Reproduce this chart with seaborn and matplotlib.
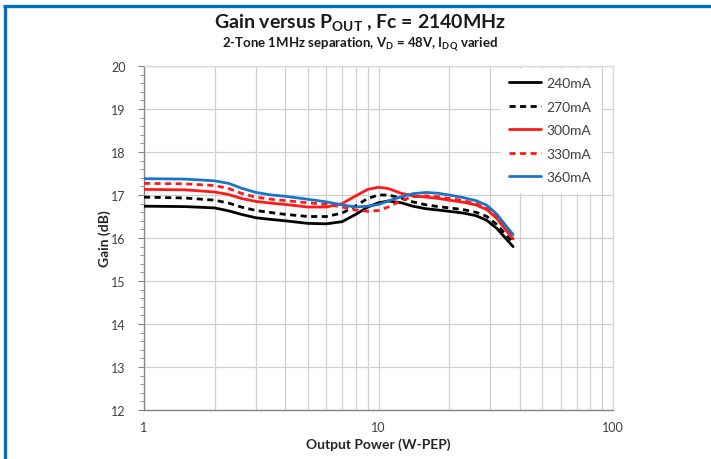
import numpy as np
import pandas as pd
import matplotlib
matplotlib.use("Agg")
import matplotlib.pyplot as plt
import matplotlib.ticker as mticker
import seaborn as sns

# ---- data ----
pout = [1, 1.5, 2, 2.3, 2.6, 3, 3.5, 4, 5, 6, 7, 8, 9, 10, 11, 12.5, 14, 16, 18, 20, 23, 26, 29, 32, 35, 37.5]
gain_240 = [16.74, 16.73, 16.70, 16.63, 16.55, 16.47, 16.43, 16.40, 16.34, 16.33, 16.38, 16.55, 16.72, 16.82, 16.86, 16.82, 16.74, 16.68, 16.65, 16.62, 16.58, 16.52, 16.41, 16.22, 15.98, 15.80]
gain_270 = [16.95, 16.93, 16.88, 16.81, 16.72, 16.64, 16.59, 16.55, 16.50, 16.50, 16.58, 16.75, 16.92, 17.00, 17.00, 16.93, 16.84, 16.77, 16.73, 16.70, 16.66, 16.60, 16.50, 16.31, 16.07, 15.90]
gain_300 = [17.13, 17.12, 17.07, 17.01, 16.92, 16.85, 16.81, 16.78, 16.72, 16.72, 16.80, 16.98, 17.13, 17.18, 17.15, 17.04, 16.98, 16.95, 16.92, 16.88, 16.83, 16.77, 16.66, 16.45, 16.18, 15.98]
gain_330 = [17.27, 17.26, 17.22, 17.15, 17.04, 16.95, 16.90, 16.87, 16.82, 16.78, 16.72, 16.65, 16.62, 16.64, 16.72, 16.87, 16.96, 16.98, 16.96, 16.92, 16.87, 16.80, 16.69, 16.49, 16.22, 16.00]
gain_360 = [17.38, 17.37, 17.33, 17.27, 17.16, 17.06, 17.00, 16.97, 16.90, 16.84, 16.77, 16.72, 16.74, 16.78, 16.86, 16.96, 17.03, 17.06, 17.04, 17.00, 16.94, 16.87, 16.76, 16.55, 16.28, 16.08]
series_labels = ["240mA", "270mA", "300mA", "330mA", "360mA"]
y_ticks = [12, 13, 14, 15, 16, 17, 18, 19, 20]
x_ticks = [1, 10, 100]

title = r"Gain versus P$_{\mathbf{OUT}}$ , Fc = 2140MHz"
subtitle = r"2-Tone 1MHz separation, V$_{\mathbf{D}}$ = 48V, I$_{\mathbf{DQ}}$ varied"
xlabel = "Output Power (W-PEP)"
ylabel = "Gain (dB)"

all_g = [gain_240, gain_270, gain_300, gain_330, gain_360]
df = pd.concat(
    [pd.DataFrame({"Pout": pout, "Gain": g, "Idq": lab}) for g, lab in zip(all_g, series_labels)],
    ignore_index=True,
)

sns.set_theme(style="white")
plt.rcParams["font.family"] = ["Lato", "DejaVu Sans"]
plt.rcParams["mathtext.fontset"] = "custom"
plt.rcParams["mathtext.bf"] = "Lato:bold"
plt.rcParams["mathtext.rm"] = "Lato"

fig = plt.figure(figsize=(7.11, 4.60), dpi=100)
ax = fig.add_axes([144 / 711, 49 / 460, (613 - 144) / 711, (411 - 67) / 460])

palette = {"240mA": "black", "270mA": "black", "300mA": "#ff1a1a", "330mA": "#ff1a1a", "360mA": "#1a75c8"}
dashes = {"240mA": "", "270mA": (2.2, 1.6), "300mA": "", "330mA": (2.2, 1.6), "360mA": ""}

sns.lineplot(data=df, x="Pout", y="Gain", hue="Idq", style="Idq", palette=palette,
             dashes=dashes, linewidth=2.0, ax=ax, legend=True, zorder=3)
for ln in ax.get_lines():
    ln.set_solid_joinstyle("round")
    ln.set_dash_joinstyle("round")

ax.set_xscale("log")
ax.set_xlim(1, 100)
ax.set_ylim(12, 20)
ax.set_yticks(y_ticks)
ax.set_yticklabels([str(v) for v in y_ticks])
ax.set_xticks(x_ticks)
ax.set_xticklabels([str(v) for v in x_ticks])
ax.xaxis.set_minor_locator(mticker.LogLocator(base=10, subs=np.arange(2, 10)))
ax.xaxis.set_minor_formatter(mticker.NullFormatter())
ax.yaxis.set_minor_locator(mticker.MultipleLocator(0.2))

ax.grid(which="major", axis="y", color="#d0d0d0", linewidth=0.9, zorder=0)
ax.grid(which="both", axis="x", color="#d0d0d0", linewidth=0.9, zorder=0)
ax.set_axisbelow(True)

ax.tick_params(axis="y", which="major", left=True, length=4, width=0.8, color="#808080",
               labelsize=9, labelcolor="#404040", pad=9)
ax.tick_params(axis="y", which="minor", left=True, length=3, width=0.6, color="#808080")
ax.tick_params(axis="x", which="both", bottom=False, length=0, labelsize=9, labelcolor="#404040", pad=8)

for s in ["left", "bottom"]:
    ax.spines[s].set_color("#868686")
    ax.spines[s].set_linewidth(1.0)
for s in ["top", "right"]:
    ax.spines[s].set_color("#d9d9d9")
    ax.spines[s].set_linewidth(1.0)

ax.set_xlabel(xlabel, fontsize=10, fontweight="bold", color="#262626", labelpad=3)
ax.set_ylabel(ylabel, fontsize=10, fontweight="bold", color="#262626", labelpad=0)

leg = ax.legend(title=None, loc="upper right", bbox_to_anchor=(0.972, 0.992), frameon=True,
                fontsize=10, handlelength=2.3, handletextpad=0.4, labelspacing=0.83,
                borderpad=0.6, borderaxespad=0.0, fancybox=False)
leg.get_frame().set_facecolor("white")
leg.get_frame().set_edgecolor("white")
leg.get_frame().set_alpha(1.0)
for t in leg.get_texts():
    t.set_color("#404040")

fig.text(0.506, 0.950, title, ha="center", va="center", fontsize=14, fontweight="bold", color="#1a1a1a")
fig.text(0.506, 0.903, subtitle, ha="center", va="center", fontsize=9.5, fontweight="bold", color="#1a1a1a")

# blue frame (top and left)
border = "#0070c0"
fig.add_artist(plt.Line2D([3 / 711, 1.0], [1 - 7 / 460, 1 - 7 / 460], transform=fig.transFigure,
                          color=border, linewidth=2.4, solid_capstyle="butt"))
fig.add_artist(plt.Line2D([4.5 / 711, 4.5 / 711], [0.0, 1 - 5.8 / 460], transform=fig.transFigure,
                          color=border, linewidth=2.4, solid_capstyle="butt"))

fig.savefig("out.png", dpi=100)
